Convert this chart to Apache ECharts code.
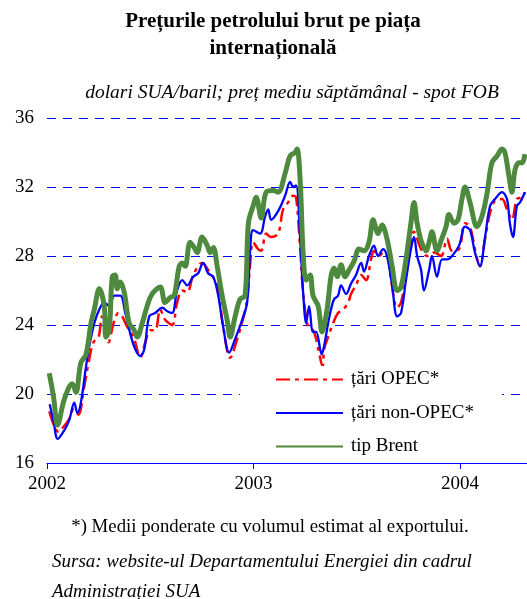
<!DOCTYPE html>
<html><head><meta charset="utf-8">
<script src="https://cdn.jsdelivr.net/npm/echarts@6/dist/echarts.min.js"></script>
<style>html,body{margin:0;padding:0;background:#fff}#c{width:527px;height:599px}</style>
</head><body><div id="c"></div>
<script>
// x values are fractional years (weekly average dates)
const yearTicks = [2002, 2003, 2004];
const yTicks = [16, 20, 24, 28, 32, 36];

const brentX = [2002.011,2002.032,2002.051,2002.084,2002.122,2002.140,2002.164,2002.189,2002.213,2002.229,2002.253,2002.277,2002.285,2002.301,2002.316,2002.330,2002.340,2002.355,2002.374,2002.398,2002.422,2002.437,2002.461,2002.485,2002.509,2002.548,2002.572,2002.597,2002.616,2002.640,2002.655,2002.669,2002.693,2002.717,2002.727,2002.751,2002.776,2002.790,2002.805,2002.824,2002.848,2002.872,2002.887,2002.911,2002.935,2002.959,2002.975,2002.998,2003.013,2003.037,2003.061,2003.095,2003.119,2003.153,2003.177,2003.201,2003.211,2003.226,2003.240,2003.255,2003.274,2003.288,2003.313,2003.332,2003.356,2003.375,2003.390,2003.405,2003.424,2003.443,2003.463,2003.487,2003.511,2003.535,2003.559,2003.579,2003.603,2003.622,2003.646,2003.671,2003.695,2003.714,2003.738,2003.762,2003.777,2003.792,2003.811,2003.835,2003.850,2003.864,2003.888,2003.908,2003.932,2003.946,2003.971,2003.990,2004.009,2004.024,2004.048,2004.082,2004.106,2004.130,2004.154,2004.179,2004.203,2004.217,2004.237,2004.251,2004.266,2004.285,2004.300,2004.314];
const brentY = [21.2,19.8,18.2,19.7,20.6,20.1,21.8,22.3,24.1,24.9,26.1,25.1,23.3,23.7,26.8,26.9,26.1,26.5,25.9,24.1,23.7,23.3,24.1,25.1,25.8,26.2,25.3,25.6,25.7,27.4,27.6,27.4,28.8,28.4,28.2,29.1,28.6,28.2,28.5,27.4,25.7,24.3,23.3,24.5,25.5,25.7,29.9,30.9,31.4,30.2,31.7,31.8,31.7,32.8,33.8,34.0,34.2,32.3,28.2,26.6,26.9,25.7,25.1,23.6,24.9,26.8,27.3,26.8,27.5,26.8,27.2,27.7,28.4,28.3,28.8,30.1,29.3,29.8,29.0,27.4,26.0,26.2,27.8,29.9,31.1,29.9,28.9,28.3,28.8,29.4,28.3,28.9,29.7,30.4,29.9,30.1,31.3,32.0,31.1,29.7,30.3,31.6,33.4,33.8,34.2,34.0,32.6,31.7,33.0,33.4,33.4,33.9];

const nonOpecX = [2002.013,2002.032,2002.052,2002.084,2002.108,2002.132,2002.147,2002.164,2002.189,2002.205,2002.229,2002.253,2002.277,2002.301,2002.326,2002.355,2002.379,2002.403,2002.427,2002.451,2002.471,2002.495,2002.524,2002.558,2002.582,2002.606,2002.630,2002.655,2002.679,2002.708,2002.732,2002.756,2002.780,2002.805,2002.829,2002.853,2002.882,2002.911,2002.945,2002.969,2002.984,2002.998,2003.032,2003.056,2003.071,2003.085,2003.119,2003.153,2003.177,2003.192,2003.206,2003.226,2003.240,2003.255,2003.269,2003.288,2003.303,2003.330,2003.342,2003.361,2003.375,2003.390,2003.409,2003.424,2003.448,2003.472,2003.496,2003.521,2003.535,2003.559,2003.583,2003.603,2003.627,2003.646,2003.671,2003.695,2003.714,2003.738,2003.762,2003.777,2003.792,2003.811,2003.825,2003.850,2003.864,2003.888,2003.913,2003.937,2003.961,2003.995,2004.024,2004.048,2004.072,2004.096,2004.121,2004.145,2004.169,2004.203,2004.227,2004.241,2004.256,2004.275,2004.290,2004.314];
const nonOpecY = [19.4,18.4,17.4,17.9,18.5,19.5,18.9,19.5,21.6,22.8,24.1,24.9,25.3,25.1,25.7,25.7,24.7,23.5,22.6,22.2,22.6,24.5,24.7,25.0,24.8,24.7,26.0,26.6,26.3,26.8,27.0,27.6,27.0,26.8,25.7,23.9,22.4,23.2,24.3,25.3,28.4,29.5,29.3,30.3,30.7,30.1,30.6,31.5,32.3,32.0,32.1,28.9,25.9,24.1,25.1,23.6,23.6,22.3,22.8,24.1,24.9,25.5,25.7,26.3,25.8,26.4,26.9,27.6,27.1,28.0,28.6,28.0,28.4,28.0,26.3,24.5,24.7,26.6,28.4,29.1,28.0,27.2,26.0,27.2,28.0,26.8,27.8,27.8,28.0,28.6,29.7,29.5,28.2,27.4,29.1,30.9,31.3,31.7,31.3,29.9,29.1,30.9,31.1,31.7];

const opecX = [2002.011,2002.056,2002.080,2002.105,2002.129,2002.153,2002.177,2002.201,2002.225,2002.250,2002.266,2002.282,2002.298,2002.322,2002.346,2002.364,2002.388,2002.422,2002.451,2002.476,2002.500,2002.524,2002.548,2002.572,2002.606,2002.630,2002.655,2002.679,2002.708,2002.751,2002.790,2002.824,2002.853,2002.887,2002.921,2002.950,2002.969,2002.984,2002.998,2003.022,2003.037,2003.061,2003.085,2003.119,2003.143,2003.167,2003.192,2003.206,2003.226,2003.240,2003.264,2003.288,2003.303,2003.317,2003.334,2003.342,2003.361,2003.385,2003.409,2003.434,2003.458,2003.472,2003.496,2003.521,2003.545,2003.569,2003.583,2003.608,2003.627,2003.651,2003.666,2003.695,2003.714,2003.743,2003.777,2003.811,2003.840,2003.874,2003.908,2003.937,2003.961,2003.995,2004.024,2004.048,2004.072,2004.096,2004.121,2004.145,2004.169,2004.203,2004.227,2004.251,2004.275,2004.300,2004.314];
const opecY = [19.0,17.8,18.1,18.5,19.1,18.8,20.2,21.8,23.0,23.3,24.5,23.9,23.0,24.1,24.7,24.5,23.9,23.2,22.1,23.0,23.7,23.7,24.9,24.3,24.0,25.3,26.0,25.9,26.9,27.6,27.0,26.3,23.9,22.1,23.2,24.4,25.5,27.6,28.8,28.4,28.3,29.3,29.1,29.3,30.7,31.1,31.5,31.4,28.4,25.9,23.9,23.7,23.2,22.4,21.6,22.6,23.3,24.1,24.7,24.9,25.3,25.8,26.3,26.9,26.6,27.8,28.3,28.0,28.2,27.9,26.6,25.0,25.3,27.2,29.4,28.4,28.0,28.2,28.0,29.0,28.3,28.4,29.9,29.7,28.4,27.4,29.0,30.5,31.2,31.3,30.7,30.1,31.3,31.4,31.7];

const seriesNames = ['țări OPEC*', 'țări non-OPEC*', 'tip Brent'];

const SERIF = "'Liberation Serif', 'Times New Roman', serif";
const pairs = (xs, ys) => xs.map((x, i) => [x, ys[i]]);

const chart = echarts.init(document.getElementById('c'), null, {renderer: 'canvas'});
chart.setOption({
  backgroundColor: '#fff',
  animation: false,
  textStyle: {fontFamily: SERIF, color: '#000'},
  grid: {left: 47, right: 0, top: 118, bottom: 136, containLabel: false},
  xAxis: {
    type: 'value', min: yearTicks[0], max: 2004.324, interval: 1,
    axisLine: {show: true, lineStyle: {color: '#0000ff', width: 1}},
    axisTick: {show: true, inside: false, length: 6, lineStyle: {color: '#0000ff'}},
    axisLabel: {margin: 12, fontSize: 19, fontFamily: SERIF, color: '#000', showMaxLabel: false,
      formatter: v => (yearTicks.indexOf(Math.round(v)) >= 0 && Math.abs(v - Math.round(v)) < 1e-6) ? String(Math.round(v)) : ''},
    splitLine: {show: false}
  },
  yAxis: {
    type: 'value', min: yTicks[0], max: yTicks[yTicks.length - 1], interval: 4,
    axisLine: {show: false}, axisTick: {show: false},
    axisLabel: {margin: 13, fontSize: 19, fontFamily: SERIF, color: '#000'},
    splitLine: {show: true, lineStyle: {color: '#0000ff', width: 1, type: [9, 7]}}
  },
  legend: {
    orient: 'vertical', left: 240, top: 366,
    padding: [4, 28, 6, 35], itemGap: 14.5,
    itemWidth: 67, itemHeight: 14,
    backgroundColor: '#fff',
    itemStyle: {opacity: 0, borderWidth: 0},
    textStyle: {fontSize: 19, fontFamily: SERIF, color: '#000', padding: [0, 0, 0, 3]},
    data: seriesNames
  },
  series: [
    {name: seriesNames[0], type: 'line', data: pairs(opecX, opecY), symbol: 'none', smooth: 0.35, z: 2,
     lineStyle: {color: '#ff0000', width: 2.5, type: [14, 5, 4, 5]}, itemStyle: {color: '#ff0000'}},
    {name: seriesNames[1], type: 'line', data: pairs(nonOpecX, nonOpecY), symbol: 'none', smooth: 0.35, z: 3,
     lineStyle: {color: '#0000ff', width: 2.3}, itemStyle: {color: '#0000ff'}},
    {name: seriesNames[2], type: 'line', data: pairs(brentX, brentY), symbol: 'none', smooth: 0.35, z: 4,
     lineStyle: {color: '#4e8a3e', width: 5}, itemStyle: {color: '#4e8a3e'}}
  ],
  graphic: [
    {type: 'text', x: 273, y: 11, style: {text: 'Prețurile petrolului brut pe piața', textAlign: 'center', font: 'bold 21px ' + SERIF, fill: '#000'}},
    {type: 'text', x: 273, y: 38, style: {text: 'internațională', textAlign: 'center', font: 'bold 21px ' + SERIF, fill: '#000'}},
    {type: 'text', x: 292, y: 83, style: {text: 'dolari SUA/baril; preț mediu săptămânal - spot FOB', textAlign: 'center', font: 'italic 19.5px ' + SERIF, fill: '#000'}},
    {type: 'text', x: 270, y: 518, style: {text: '*) Medii ponderate cu volumul estimat al exportului.', textAlign: 'center', font: '18.8px ' + SERIF, fill: '#000'}},
    {type: 'text', x: 52, y: 552, style: {text: 'Sursa: website-ul Departamentului Energiei din cadrul', textAlign: 'left', font: 'italic 19px ' + SERIF, fill: '#000'}},
    {type: 'text', x: 52, y: 582, style: {text: 'Administrației SUA', textAlign: 'left', font: 'italic 19px ' + SERIF, fill: '#000'}}
  ]
});
</script>
</body></html>
